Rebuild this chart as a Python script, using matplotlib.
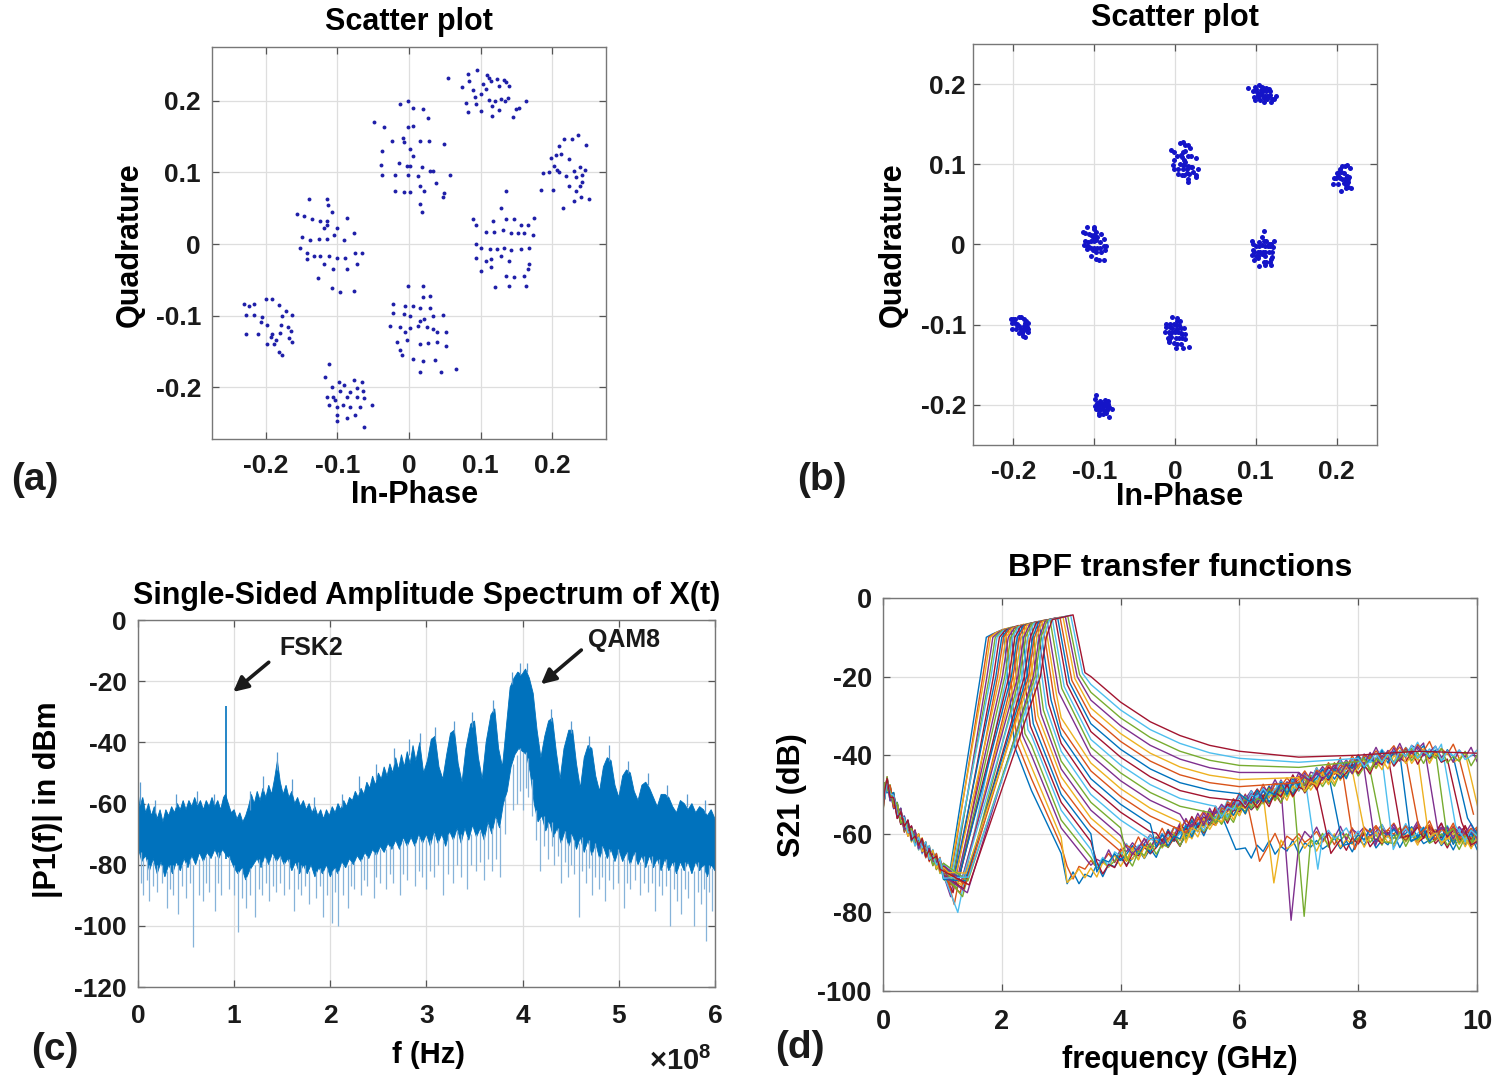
import numpy as np
import matplotlib
matplotlib.use("Agg")
import matplotlib.pyplot as plt

plt.rcParams.update({
    "font.family": ["Liberation Sans", "DejaVu Sans"],
    "font.weight": "bold",
    "axes.unicode_minus": False,
    "mathtext.fontset": "custom",
    "mathtext.rm": "Liberation Sans",
    "mathtext.it": "Liberation Sans",
})

# ---------------- (a) QAM8 constellation, noisy ----------------
QA_TOP = [(0.055, 0.232), (0.082, 0.237), (0.095, 0.243), (0.109, 0.236), (0.112, 0.232), (0.123, 0.230),
          (0.132, 0.229), (0.140, 0.220), (0.074, 0.219), (0.084, 0.227), (0.103, 0.223), (0.115, 0.227),
          (0.125, 0.220), (0.135, 0.226), (0.092, 0.205), (0.100, 0.209), (0.112, 0.201), (0.120, 0.200),
          (0.129, 0.202), (0.134, 0.199), (0.079, 0.197), (0.094, 0.195), (0.100, 0.185), (0.116, 0.192),
          (0.116, 0.179), (0.149, 0.188), (0.145, 0.177), (0.154, 0.190), (0.164, 0.199), (0.082, 0.184),
          (0.107, 0.216), (0.089, 0.215), (0.126, 0.187), (0.138, 0.204)]
QA_UPMID = [(-0.013, 0.195), (-0.002, 0.200), (0.005, 0.190), (0.019, 0.188), (0.026, 0.176), (-0.049, 0.171),
            (-0.035, 0.163), (-0.001, 0.163), (0.006, 0.165), (-0.008, 0.148), (-0.024, 0.144), (-0.007, 0.142),
            (0.016, 0.144), (0.028, 0.144), (0.049, 0.139), (-0.038, 0.130), (0.002, 0.132), (0.006, 0.123),
            (-0.014, 0.113), (-0.003, 0.109), (0.002, 0.109), (0.018, 0.107), (0.029, 0.102), (-0.039, 0.110),
            (-0.038, 0.097), (-0.019, 0.097), (-0.002, 0.097), (0.013, 0.095), (0.038, 0.085), (0.057, 0.097),
            (-0.020, 0.074), (-0.007, 0.072), (0.002, 0.073), (0.015, 0.081), (0.021, 0.074), (0.049, 0.071),
            (0.048, 0.065), (0.016, 0.056), (0.018, 0.045), (0.034, 0.102)]
QA_RIGHT = [(0.217, 0.147), (0.228, 0.146), (0.236, 0.152), (0.247, 0.138), (0.210, 0.137), (0.198, 0.120),
            (0.205, 0.124), (0.212, 0.125), (0.224, 0.119), (0.203, 0.109), (0.206, 0.104), (0.209, 0.101),
            (0.196, 0.100), (0.187, 0.099), (0.219, 0.095), (0.231, 0.102), (0.238, 0.107), (0.246, 0.104),
            (0.242, 0.097), (0.233, 0.093), (0.241, 0.086), (0.238, 0.081), (0.184, 0.076), (0.201, 0.076),
            (0.224, 0.081), (0.233, 0.074), (0.240, 0.065), (0.251, 0.063), (0.231, 0.060), (0.215, 0.050)]
QA_LEFTMID = [(-0.140, 0.063), (-0.115, 0.063), (-0.113, 0.055), (-0.156, 0.042), (-0.147, 0.039),
              (-0.135, 0.035), (-0.124, 0.032), (-0.114, 0.032), (-0.107, 0.045), (-0.086, 0.037),
              (-0.114, 0.026), (-0.119, 0.023), (-0.101, 0.023), (-0.077, 0.015), (-0.149, 0.010),
              (-0.138, 0.005), (-0.126, 0.007), (-0.114, 0.007), (-0.105, 0.012), (-0.091, 0.005),
              (-0.152, -0.006), (-0.142, -0.012), (-0.133, -0.016), (-0.124, -0.017), (-0.112, -0.017),
              (-0.101, -0.019), (-0.090, -0.019), (-0.075, -0.012), (-0.066, -0.012), (-0.073, -0.028),
              (-0.118, -0.028), (-0.106, -0.035), (-0.087, -0.035), (-0.127, -0.048), (-0.107, -0.062),
              (-0.096, -0.067), (-0.077, -0.066), (-0.142, -0.021)]
QA_RIGHTMID = [(0.136, 0.074), (0.129, 0.051), (0.090, 0.035), (0.117, 0.032), (0.136, 0.035), (0.147, 0.035),
               (0.157, 0.026), (0.175, 0.036), (0.166, 0.026), (0.173, 0.012), (0.094, 0.026), (0.108, 0.017),
               (0.119, 0.017), (0.131, 0.019), (0.143, 0.016), (0.152, 0.015), (0.161, 0.016), (0.094, 0.000),
               (0.101, -0.005), (0.113, -0.007), (0.123, -0.007), (0.133, -0.005), (0.143, -0.008),
               (0.157, -0.007), (0.167, -0.006), (0.093, -0.019), (0.108, -0.023), (0.115, -0.021),
               (0.129, -0.016), (0.140, -0.023), (0.168, -0.028), (0.166, -0.035), (0.101, -0.038),
               (0.114, -0.032), (0.136, -0.044), (0.147, -0.046), (0.161, -0.045), (0.120, -0.060),
               (0.140, -0.058), (0.163, -0.058)]
QA_FARLEFT = [(-0.231, -0.083), (-0.223, -0.086), (-0.216, -0.083), (-0.199, -0.076), (-0.191, -0.076),
              (-0.181, -0.085), (-0.228, -0.099), (-0.216, -0.099), (-0.205, -0.102), (-0.172, -0.093),
              (-0.164, -0.099), (-0.177, -0.100), (-0.207, -0.109), (-0.198, -0.113), (-0.179, -0.113),
              (-0.169, -0.116), (-0.228, -0.125), (-0.211, -0.125), (-0.191, -0.125), (-0.180, -0.124),
              (-0.165, -0.122), (-0.193, -0.130), (-0.186, -0.134), (-0.168, -0.131), (-0.163, -0.136),
              (-0.198, -0.139), (-0.188, -0.140), (-0.182, -0.150), (-0.177, -0.155)]
QA_LOWMID = [(-0.001, -0.058), (0.020, -0.059), (0.019, -0.074), (0.030, -0.073), (-0.022, -0.083),
             (-0.006, -0.086), (0.006, -0.086), (0.015, -0.089), (0.029, -0.089), (-0.007, -0.097),
             (-0.022, -0.096), (0.002, -0.100), (0.015, -0.107), (0.021, -0.104), (0.034, -0.100),
             (0.048, -0.099), (-0.026, -0.114), (-0.013, -0.116), (0.001, -0.117), (0.013, -0.114),
             (0.025, -0.116), (0.034, -0.118), (0.039, -0.123), (0.052, -0.123), (-0.017, -0.137),
             (-0.003, -0.134), (0.015, -0.139), (0.027, -0.138), (0.039, -0.137), (0.052, -0.142),
             (-0.013, -0.148), (-0.010, -0.155), (0.006, -0.160), (0.019, -0.163), (0.036, -0.162),
             (0.015, -0.178), (0.044, -0.178), (0.066, -0.174), (-0.006, -0.123)]
QA_BOTTOM = [(-0.112, -0.168), (-0.117, -0.185), (-0.098, -0.192), (-0.091, -0.196), (-0.077, -0.190),
             (-0.066, -0.192), (-0.107, -0.199), (-0.096, -0.205), (-0.082, -0.206), (-0.073, -0.201),
             (-0.064, -0.205), (-0.115, -0.213), (-0.106, -0.214), (-0.103, -0.218), (-0.087, -0.213),
             (-0.073, -0.214), (-0.063, -0.215), (-0.051, -0.224), (-0.101, -0.228), (-0.092, -0.225),
             (-0.082, -0.228), (-0.069, -0.227), (-0.101, -0.238), (-0.087, -0.243), (-0.075, -0.238),
             (-0.101, -0.247), (-0.063, -0.255), (-0.112, -0.225)]
QA_CLUSTERS = [QA_TOP, QA_UPMID, QA_RIGHT, QA_LEFTMID, QA_RIGHTMID, QA_FARLEFT, QA_LOWMID, QA_BOTTOM]

# ---------------- (b) same constellation, clean: blob centres ----------------
QB_CENTERS = [(0.109, 0.188), (0.012, 0.102), (0.208, 0.083), (-0.100, 0.002),
              (0.109, -0.008), (-0.191, -0.102), (0.001, -0.110), (-0.090, -0.202)]
QB_SHRINK = 0.32

SCATTER_TICKS = [-0.2, -0.1, 0, 0.1, 0.2]
SCATTER_LABELS = ["-0.2", "-0.1", "0", "0.1", "0.2"]

# ---------------- (c) spectrum (f in units of 1e8 Hz, dBm) ----------------
SPEC_TOP = [(0.00, -56), (0.02, -61), (0.05, -58), (0.08, -63), (0.11, -60), (0.14, -64), (0.17, -61),
            (0.20, -65), (0.23, -62), (0.26, -66), (0.29, -62), (0.32, -64), (0.35, -61), (0.38, -63),
            (0.41, -60), (0.44, -62), (0.47, -59), (0.50, -62), (0.53, -59), (0.56, -61), (0.59, -58),
            (0.62, -61), (0.65, -59), (0.68, -62), (0.71, -59), (0.74, -61), (0.77, -58), (0.80, -61),
            (0.83, -59), (0.86, -62), (0.89, -58), (0.91, -57), (0.94, -60), (0.97, -63), (1.00, -62),
            (1.03, -65), (1.06, -63), (1.09, -66), (1.12, -64), (1.15, -61), (1.18, -57), (1.21, -60),
            (1.24, -56), (1.27, -59), (1.30, -55), (1.33, -58), (1.36, -54), (1.39, -57), (1.42, -52),
            (1.45, -46), (1.48, -53), (1.51, -57), (1.54, -54), (1.57, -58), (1.60, -56), (1.63, -60),
            (1.66, -58), (1.69, -61), (1.72, -59), (1.75, -62), (1.78, -60), (1.81, -63), (1.84, -61),
            (1.87, -64), (1.90, -62), (1.93, -65), (1.96, -62), (1.99, -64), (2.02, -61), (2.05, -63),
            (2.08, -60), (2.11, -62), (2.14, -59), (2.17, -61), (2.20, -58), (2.23, -59), (2.26, -56),
            (2.29, -58), (2.32, -55), (2.35, -57), (2.38, -53), (2.41, -55), (2.44, -51), (2.47, -54),
            (2.50, -50), (2.53, -52), (2.56, -48), (2.59, -51), (2.62, -47), (2.65, -50), (2.68, -45),
            (2.71, -49), (2.74, -44), (2.77, -48), (2.80, -43), (2.83, -47), (2.86, -41), (2.89, -46),
            (2.93, -40), (2.97, -50), (3.01, -46), (3.05, -39), (3.09, -38), (3.13, -48), (3.17, -52),
            (3.21, -44), (3.25, -37), (3.29, -36), (3.33, -47), (3.37, -53), (3.41, -42), (3.46, -34),
            (3.50, -33), (3.54, -45), (3.58, -52), (3.62, -40), (3.67, -31), (3.71, -29), (3.75, -42),
            (3.79, -48), (3.83, -35), (3.87, -22), (3.91, -19), (3.95, -17), (3.99, -18), (4.03, -16),
            (4.07, -19), (4.11, -24), (4.15, -36), (4.19, -45), (4.23, -38), (4.27, -33), (4.31, -32),
            (4.35, -43), (4.39, -52), (4.43, -42), (4.48, -36), (4.52, -36), (4.56, -47), (4.60, -55),
            (4.64, -45), (4.68, -41), (4.72, -42), (4.76, -51), (4.80, -56), (4.84, -48), (4.88, -45),
            (4.92, -46), (4.96, -54), (5.00, -58), (5.04, -51), (5.08, -49), (5.12, -50), (5.16, -56),
            (5.20, -59), (5.24, -54), (5.28, -53), (5.32, -55), (5.36, -58), (5.40, -61), (5.44, -57),
            (5.48, -57), (5.52, -58), (5.56, -61), (5.60, -63), (5.64, -59), (5.68, -60), (5.72, -62),
            (5.76, -60), (5.80, -63), (5.84, -61), (5.88, -62), (5.92, -64), (5.96, -62), (6.00, -65)]
SPEC_LOW = [(0.00, -74), (0.04, -79), (0.08, -77), (0.12, -82), (0.16, -78), (0.20, -83), (0.24, -79),
            (0.28, -84), (0.32, -80), (0.36, -83), (0.40, -79), (0.44, -82), (0.48, -78), (0.52, -81),
            (0.56, -77), (0.60, -80), (0.64, -76), (0.68, -79), (0.72, -76), (0.76, -78), (0.80, -75),
            (0.84, -78), (0.88, -75), (0.92, -77), (0.96, -78), (1.00, -81), (1.04, -83), (1.08, -81),
            (1.12, -85), (1.16, -82), (1.20, -80), (1.24, -78), (1.28, -81), (1.32, -77), (1.36, -80),
            (1.40, -76), (1.44, -79), (1.48, -77), (1.52, -80), (1.56, -78), (1.60, -82), (1.64, -79),
            (1.68, -83), (1.72, -80), (1.76, -83), (1.80, -80), (1.84, -84), (1.88, -81), (1.92, -83),
            (1.96, -80), (2.00, -84), (2.04, -81), (2.08, -83), (2.12, -79), (2.16, -81), (2.20, -78),
            (2.24, -80), (2.28, -77), (2.32, -79), (2.36, -76), (2.40, -78), (2.44, -75), (2.48, -77),
            (2.52, -74), (2.56, -76), (2.60, -73), (2.64, -75), (2.68, -72), (2.72, -75), (2.76, -71),
            (2.80, -74), (2.84, -71), (2.88, -74), (2.92, -70), (2.96, -73), (3.00, -70), (3.04, -74),
            (3.08, -69), (3.12, -73), (3.16, -70), (3.20, -74), (3.24, -69), (3.28, -72), (3.32, -68),
            (3.36, -73), (3.40, -68), (3.44, -72), (3.48, -67), (3.52, -71), (3.56, -68), (3.60, -72),
            (3.64, -66), (3.68, -70), (3.72, -64), (3.76, -68), (3.80, -60), (3.84, -56), (3.88, -48),
            (3.92, -44), (3.96, -42), (4.00, -43), (4.04, -44), (4.08, -50), (4.12, -60), (4.16, -66),
            (4.20, -64), (4.24, -69), (4.28, -66), (4.32, -71), (4.36, -68), (4.40, -73), (4.44, -69),
            (4.48, -74), (4.52, -70), (4.56, -75), (4.60, -71), (4.64, -76), (4.68, -72), (4.72, -77),
            (4.76, -73), (4.80, -78), (4.84, -74), (4.88, -78), (4.92, -75), (4.96, -79), (5.00, -75),
            (5.04, -79), (5.08, -76), (5.12, -80), (5.16, -76), (5.20, -80), (5.24, -77), (5.28, -81),
            (5.32, -77), (5.36, -81), (5.40, -78), (5.44, -82), (5.48, -78), (5.52, -82), (5.56, -79),
            (5.60, -83), (5.64, -79), (5.68, -82), (5.72, -79), (5.76, -83), (5.80, -79), (5.84, -82),
            (5.88, -80), (5.92, -84), (5.96, -80), (6.00, -82)]
# light downward spikes: (f, bottom, top)
SPIKES = [(0.03, -86, -76), (0.05, -90, -78), (0.09, -85, -78), (0.12, -92, -80), (0.16, -87, -79),
          (0.20, -89, -80), (0.25, -86, -80), (0.30, -94, -82), (0.33, -88, -80), (0.36, -90, -80),
          (0.42, -96, -80), (0.46, -87, -80), (0.50, -91, -79), (0.54, -86, -78), (0.57, -107, -80),
          (0.63, -90, -78), (0.68, -92, -78), (0.71, -86, -77), (0.74, -89, -77), (0.80, -95, -77),
          (0.83, -86, -76), (0.86, -90, -76), (0.95, -88, -77), (1.00, -90, -80), (1.04, -102, -82),
          (1.08, -91, -81), (1.12, -94, -84), (1.17, -90, -81), (1.22, -97, -80), (1.26, -88, -78),
          (1.29, -90, -79), (1.33, -86, -78), (1.36, -92, -79), (1.40, -87, -77), (1.44, -89, -78),
          (1.48, -86, -77), (1.52, -90, -79), (1.57, -88, -78), (1.62, -95, -81), (1.66, -88, -79),
          (1.70, -90, -80), (1.74, -87, -80), (1.78, -93, -82), (1.85, -91, -82), (1.89, -87, -81),
          (1.92, -97, -82), (1.97, -90, -81), (2.02, -99, -82), (2.05, -89, -81), (2.08, -100, -82),
          (2.13, -90, -80), (2.18, -94, -80), (2.22, -87, -79), (2.25, -88, -79), (2.32, -90, -78),
          (2.35, -85, -77), (2.38, -87, -77), (2.45, -91, -76), (2.48, -84, -76), (2.52, -86, -75),
          (2.58, -88, -75), (2.62, -83, -74), (2.65, -86, -74), (2.72, -90, -74), (2.76, -83, -72),
          (2.80, -85, -73), (2.88, -87, -73), (2.92, -82, -71), (2.95, -84, -72), (3.00, -88, -72),
          (3.04, -82, -72), (3.08, -84, -70), (3.12, -80, -72), (3.17, -90, -72), (3.22, -83, -70),
          (3.28, -86, -71), (3.32, -80, -69), (3.36, -84, -70), (3.42, -88, -71), (3.46, -80, -70),
          (3.52, -82, -70), (3.56, -79, -69), (3.60, -85, -70), (3.64, -78, -67), (3.68, -82, -68),
          (3.72, -78, -65), (3.76, -84, -67), (3.82, -70, -58), (3.90, -62, -47), (3.94, -60, -44),
          (3.97, -56, -42), (4.00, -62, -43), (4.03, -55, -43), (4.06, -58, -45), (4.10, -64, -52),
          (4.14, -72, -62), (4.18, -82, -65), (4.22, -74, -64), (4.26, -78, -66), (4.30, -74, -66),
          (4.33, -80, -70), (4.37, -77, -68), (4.40, -86, -72), (4.44, -79, -69), (4.47, -84, -73),
          (4.50, -80, -70), (4.53, -83, -72), (4.59, -97, -73), (4.62, -82, -71), (4.66, -86, -75),
          (4.69, -81, -72), (4.72, -90, -76), (4.75, -84, -73), (4.79, -88, -77), (4.82, -84, -74),
          (4.86, -92, -77), (4.90, -85, -75), (4.94, -88, -78), (4.99, -86, -75), (5.05, -94, -78),
          (5.09, -86, -76), (5.12, -88, -79), (5.17, -85, -76), (5.22, -90, -79), (5.26, -86, -77),
          (5.30, -89, -80), (5.34, -86, -77), (5.38, -95, -80), (5.42, -87, -78), (5.45, -90, -81),
          (5.49, -87, -78), (5.53, -100, -81), (5.57, -88, -79), (5.60, -92, -82), (5.65, -96, -81),
          (5.69, -88, -79), (5.72, -91, -82), (5.78, -100, -82), (5.82, -89, -79), (5.85, -93, -81),
          (5.89, -88, -80), (5.91, -105, -83), (5.94, -89, -80), (5.97, -95, -81)]
# thin tips poking above the dense body: (f, base, tip)
UP_SPIKES = [(0.02, -60, -53), (0.18, -63, -59), (0.40, -61, -57), (0.61, -60, -56), (0.79, -60, -57),
             (1.16, -62, -56), (1.30, -56, -51), (1.45, -49, -43), (1.60, -57, -52), (1.83, -62, -58),
             (2.12, -61, -57), (2.30, -56, -51), (2.48, -52, -47), (2.66, -47, -42), (2.82, -44, -39),
             (2.93, -41, -37), (3.09, -39, -35), (3.29, -37, -33), (3.47, -35, -30), (3.69, -30, -26),
             (3.89, -21, -17), (3.97, -18, -14), (4.05, -17, -14), (4.29, -33, -29), (4.50, -37, -33),
             (4.69, -42, -38), (4.90, -46, -41), (5.10, -50, -46), (5.30, -54, -50), (5.50, -58, -54),
             (5.71, -61, -57), (5.90, -63, -59)]
FSK2_LINE = (0.92, -78, -28)

# ---------------- (d) BPF transfer functions (GHz, dB) ----------------
START_F = [0.0, 0.03, 0.07, 0.12, 0.18, 0.24, 0.30, 0.36, 0.42, 0.48, 0.54, 0.60, 0.66, 0.72, 0.78,
           0.84, 0.90, 0.96, 1.02]
START_DB = [-53, -49, -47.5, -49.5, -51.5, -54, -55.5, -57.5, -58.5, -60, -61, -62, -63, -64, -65,
            -66, -67, -68, -69.5]
RISE_LO = [1.10, 1.11, 1.12, 1.14, 1.15, 1.16, 1.18, 1.19, 1.20, 1.22, 1.23, 1.24, 1.26, 1.27,
           1.28, 1.30, 1.31, 1.32, 1.34, 1.35, 1.36, 1.38, 1.39, 1.40, 1.42, 1.43, 1.44, 1.45]
MIN_DB = [-72, -74, -71, -76, -73, -70, -75, -72, -78, -71, -73, -74, -80, -72,
          -71, -75, -73, -72, -76, -71, -74, -72, -73, -70, -75, -72, -71, -73]
RISE_10 = [1.74, 1.78, 1.81, 1.85, 1.89, 1.92, 1.96, 2.00, 2.03, 2.07, 2.11, 2.15, 2.18, 2.22,
           2.26, 2.29, 2.33, 2.37, 2.40, 2.44, 2.48, 2.52, 2.55, 2.59, 2.63, 2.66, 2.70, 2.75]
PEAK_F = [2.02, 2.06, 2.11, 2.15, 2.19, 2.24, 2.28, 2.33, 2.37, 2.41, 2.46, 2.50, 2.55, 2.59,
          2.63, 2.68, 2.72, 2.76, 2.81, 2.85, 2.90, 2.94, 2.98, 3.03, 3.07, 3.11, 3.16, 3.20]
PEAK_DB = [-8.0, -7.8, -7.6, -7.5, -7.3, -7.2, -7.0, -6.9, -6.7, -6.6, -6.5, -6.3, -6.2, -6.0,
           -5.9, -5.8, -5.6, -5.5, -5.4, -5.3, -5.1, -5.0, -4.9, -4.8, -4.7, -4.6, -4.4, -4.3]
STEEP_DB = [-38, -37, -36, -35, -34.5, -33.5, -32.5, -32, -31, -30, -29.5, -28.5, -28, -27,
            -26, -25.5, -24.5, -24, -23, -22.5, -22, -21.5, -21, -20.5, -20, -19.5, -19.2, -19]
nan = np.nan
TAIL_T = [2.5, 3.0, 3.5, 4.0, 4.5, 5.0, 5.5, 6.0, 7.0, 8.0, 9.0, 10.0]
TAIL_DB = [
    [-49, -46, -43, -40, -37.5, -35] + [nan] * 22,
    [-65, -63, -61, -58.5, -56.5, -54, -52, -50, -48, -45.5, -43.5, -41.5, -39, -37, -35, -33, -30.5] + [nan] * 11,
    [-74, -72, -70, -68, -66, -64, -62, -60, -58, -56, -54, -52, -50, -48, -46, -44, -42, -40, -38, -36,
     -34, -32, -30, -28, -26, -24, -22, -20],
    [nan] * 7 + [-66.5, -64.5, -62.5, -60.5, -58.5, -56.5, -54.5, -52.5, -50.5, -48.5, -46.5, -44.5,
                 -42.5, -40.5, -38.5, -36.5, -34.5, -32.5, -30.5, -28.5, -26.5],
    [nan] * 11 + [-63.5, -61.5, -59.5, -57.5, -55.5, -53.5, -51.5, -49.5, -47.5, -45.5, -43.5, -41.5,
                  -39.5, -37.5, -35.5, -33.5, -31.5],
    [nan] * 14 + [-61, -59, -57, -55, -53, -51, -49, -47, -45, -43, -41, -39, -37, -35],
    [nan] * 17 + [-56.5, -54.6, -52.7, -50.8, -48.9, -47, -45.1, -43.2, -41.3, -39.4, -37.5],
    [nan] * 19 + [-53.4, -51.6, -49.8, -48, -46.2, -44.4, -42.6, -40.8, -39],
    [nan] * 22 + [-47, -45.7, -44.4, -43.1, -41.8, -40.5],
    [nan] * 25 + [-41.6, -40.8, -40],
    [nan] * 26 + [-39.5, -39],
    [nan] * 27 + [-39.5],
]
DIAG_F0 = 2.5
DIAG_DB = [-72.5, -72.3, -72.0, -71.7, -71.4, -71.0, -70.6, -70.2, -69.7, -69.2, -68.6, -68.1, -67.6,
           -67.1, -66.6, -66.0, -65.4, -64.8, -64.2, -63.6, -63.0, -62.4, -61.8, -61.2, -60.6, -60.0,
           -59.3, -58.6, -57.9, -57.2, -56.5, -55.8, -55.1, -54.4, -53.7, -53.0, -52.4, -51.8, -51.2,
           -50.6, -50.0, -49.5, -49.0, -48.5, -48.0, -47.5, -47.0, -46.5, -46.0, -45.5, -45.0, -44.5,
           -44.0, -43.5, -43.0, -42.5, -42.1, -41.7, -41.3, -40.9, -40.5, -40.3, -40.1, -39.9, -39.7,
           -39.5, -39.5, -39.6, -39.7, -39.8, -40.0, -40.1, -40.2, -40.3, -40.4, -40.5]
HARM_F = [5.8, 6.2, 6.44, 6.73, 6.95, 7.18, 7.4, 7.6, 7.8, 8.0, 8.15, 8.3, 8.45, 8.6,
          8.75, 8.9, 9.05, 9.2, 9.35, 9.5, 9.6, 9.7, 9.8, 9.9, 11, 11, 11, 11]
DIP_DB = [-64, -67, -72.5, -82, -81, -69, -65, -63, -64, -62, -63, -62, -64, -61,
          -62, -60, -61, -59, -60, -58, -57, -56, -55, -55, -55, -55, -55, -55]
FLOOR_F0 = 5.8
FLOOR_DB = [-63, -63, -63, -62.8, -62.6, -62.5, -62.4, -62.3, -62.2, -62.1, -62, -61.9, -61.8, -61.7,
            -61.6, -61.5, -61.4, -61.3, -61.2, -61.1, -61.0, -61.0, -60.9, -60.8, -60.7, -60.6, -60.5,
            -60.4, -60.3, -60.2, -60.1, -60.0, -60.0, -60.0, -60.1, -60.2, -60.3, -60.4, -60.5, -60.6,
            -60.7, -60.8, -61.0]
NOISE = [0.0, 1.6, -1.2, 0.7, -2.1, 1.1, -0.6, 2.0, -1.5, 0.4, -0.9, 1.8, -1.8, 0.9, -0.3, 1.3, -1.0]
OFFS = [-1.5, 0.5, -0.8, 1.2, -0.3, 0.9, -1.1, 0.2, 1.4, -0.6, 0.7, -1.3, 0.1, 1.0,
        -0.4, 0.6, -0.9, 1.3, -0.2, 0.8, -1.0, 0.3, 1.1, -0.7, 0.4, -0.5, 0.2, 0.0]
MATLAB_COLORS = ["#0072BD", "#D95319", "#EDB120", "#7E2F8E", "#77AC30", "#4DBEEE", "#A2142F"]


def style_axes(ax, labelsize, xpad, ypad):
    ax.grid(True, color="#dedede", lw=0.9)
    ax.set_axisbelow(True)
    for s in ax.spines.values():
        s.set_color("#777777")
        s.set_linewidth(1.0)
    ax.tick_params(direction="in", top=True, right=True, length=5, width=0.9, color="#555555",
                   labelsize=labelsize, labelcolor="#1a1a1a")
    ax.tick_params(axis="x", pad=xpad)
    ax.tick_params(axis="y", pad=ypad)


fig = plt.figure(figsize=(14.93, 10.78), dpi=100)

# ---- (a)
ax_a = fig.add_axes([0.142, 0.5928, 0.2639, 0.3636])
for cl in QA_CLUSTERS:
    xs, ys = zip(*cl)
    ax_a.plot(xs, ys, "o", ms=2.8, color="#1f1fa8", mec="none")
ax_a.set_xlim(-0.275, 0.275)
ax_a.set_ylim(-0.272, 0.275)
ax_a.set_xticks(SCATTER_TICKS, labels=SCATTER_LABELS)
ax_a.set_yticks(SCATTER_TICKS, labels=SCATTER_LABELS)
style_axes(ax_a, 19, 11, 8)
ax_a.set_title("Scatter plot", fontsize=22, fontweight="bold", y=1.064, va="center", pad=0)
ax_a.set_xlabel("In-Phase", fontsize=22, fontweight="bold", va="center")
ax_a.xaxis.set_label_coords(0.513, -0.143)
ax_a.set_ylabel("Quadrature", fontsize=22, fontweight="bold", va="center")
ax_a.yaxis.set_label_coords(-0.208, 0.495)

# ---- (b)
ax_b = fig.add_axes([0.6517, 0.5872, 0.2706, 0.3720])
for cl, (cx, cy) in zip(QA_CLUSTERS, QB_CENTERS):
    pts = np.array(cl)
    mx, my = pts.mean(axis=0)
    ax_b.plot(cx + QB_SHRINK * (pts[:, 0] - mx), cy + QB_SHRINK * (pts[:, 1] - my), "o",
              ms=3.6, color="#1414c8", mec="none")
ax_b.set_xlim(-0.25, 0.25)
ax_b.set_ylim(-0.25, 0.25)
ax_b.set_xticks(SCATTER_TICKS, labels=SCATTER_LABELS)
ax_b.set_yticks(SCATTER_TICKS, labels=SCATTER_LABELS)
style_axes(ax_b, 19, 11, 5)
ax_b.set_title("Scatter plot", fontsize=22, fontweight="bold", y=1.065, va="center", pad=0)
ax_b.set_xlabel("In-Phase", fontsize=22, fontweight="bold", va="center")
ax_b.xaxis.set_label_coords(0.512, -0.130)
ax_b.set_ylabel("Quadrature", fontsize=22, fontweight="bold", va="center")
ax_b.yaxis.set_label_coords(-0.198, 0.499)

# ---- (c)
ax_c = fig.add_axes([0.0924, 0.0844, 0.3865, 0.3404])
top = np.array(SPEC_TOP)
low = np.array(SPEC_LOW)
sp = np.array(SPIKES)
up = np.array(UP_SPIKES)
ax_c.vlines(sp[:, 0], sp[:, 1], sp[:, 2], color="#86b3d9", lw=0.9)
ax_c.vlines(up[:, 0], up[:, 1], up[:, 2], color="#5b9bd0", lw=0.9)
ax_c.fill(np.concatenate([top[:, 0], low[::-1, 0]]), np.concatenate([top[:, 1], low[::-1, 1]]),
          color="#0072BD", lw=0.6, ec="#0072BD")
ax_c.vlines([FSK2_LINE[0]], [FSK2_LINE[1]], [FSK2_LINE[2]], color="#0072BD", lw=1.2)
ax_c.set_xlim(0, 6)
ax_c.set_ylim(-120, 0)
ax_c.set_xticks(range(0, 7))
ax_c.set_yticks(range(-120, 1, 20))
style_axes(ax_c, 19, 12, 8)
ax_c.set_title("Single-Sided Amplitude Spectrum of X(t)", fontsize=22, fontweight="bold",
               y=1.065, va="center", pad=0)
ax_c.set_xlabel("f (Hz)", fontsize=21, fontweight="bold", va="center")
ax_c.xaxis.set_label_coords(0.503, -0.185)
ax_c.set_ylabel("|P1(f)| in dBm", fontsize=22, fontweight="bold", va="center")
ax_c.yaxis.set_label_coords(-0.156, 0.51)
ax_c.text(0.94, -0.204, r"$\times10^{8}$", transform=ax_c.transAxes, fontsize=21,
          ha="center", va="center", color="#1a1a1a")
arrow = dict(arrowstyle="-|>", color="#1a1a1a", lw=2.6, mutation_scale=22, shrinkA=0, shrinkB=0)
ax_c.annotate("", xy=(0.99, -23.5), xytext=(1.36, -13.8), arrowprops=arrow)
ax_c.annotate("", xy=(4.19, -21.0), xytext=(4.61, -9.8), arrowprops=arrow)
ax_c.text(1.80, -9.2, "FSK2", fontsize=18, fontweight="bold", ha="center", va="center", color="#1a1a1a")
ax_c.text(5.05, -6.5, "QAM8", fontsize=18, fontweight="bold", ha="center", va="center", color="#1a1a1a")

# ---- (d)
ax_d = fig.add_axes([0.5914, 0.0807, 0.3979, 0.3646])


def diag_at(f):
    return DIAG_DB[int(round((f - DIAG_F0) / 0.1))]


for k in range(len(PEAK_F)):
    fs, ds = [], []
    for j, (f, d) in enumerate(zip(START_F, START_DB)):
        fs.append(f)
        ds.append(d + NOISE[(j + 5 * k) % 17])
    fs += [RISE_LO[k], RISE_10[k] - 0.1, RISE_10[k], RISE_10[k] + 0.1, PEAK_F[k], PEAK_F[k] + 0.2]
    ds += [MIN_DB[k], -20, -10, PEAK_DB[k] - 1.2, PEAK_DB[k], STEEP_DB[k]]
    last = PEAK_F[k] + 0.2
    for t, row in zip(TAIL_T, TAIL_DB):
        v = row[k]
        if np.isnan(v) or t <= last + 0.05:
            continue
        if v <= diag_at(t):
            break
        fs.append(t)
        ds.append(v)
        last = t
    for j, d in enumerate(DIAG_DB):
        f = DIAG_F0 + 0.1 * j
        if last + 0.08 < f < HARM_F[k]:
            fs.append(f)
            ds.append(d + NOISE[(j + 5 * k) % 17] + OFFS[k])
    if HARM_F[k] < 10.5:
        fs.append(HARM_F[k] + 0.14)
        ds.append(DIP_DB[k])
        for j, d in enumerate(FLOOR_DB):
            f = FLOOR_F0 + 0.1 * j
            if f > HARM_F[k] + 0.22:
                fs.append(f)
                ds.append(d + NOISE[(j + 3 * k) % 17] + OFFS[k])
    ax_d.plot(fs, ds, color=MATLAB_COLORS[k % 7], lw=1.0)

ax_d.set_xlim(0, 10)
ax_d.set_ylim(-100, 0)
ax_d.set_xticks(range(0, 11, 2))
ax_d.set_yticks(range(-100, 1, 20))
style_axes(ax_d, 19.5, 13, 8)
ax_d.set_title("BPF transfer functions", fontsize=23, fontweight="bold", y=1.076, va="center", pad=0)
ax_d.set_xlabel("frequency (GHz)", fontsize=22, fontweight="bold", va="center")
ax_d.xaxis.set_label_coords(0.5, -0.176)
ax_d.set_ylabel("S21 (dB)", fontsize=22, fontweight="bold", va="center")
ax_d.yaxis.set_label_coords(-0.153, 0.499)

# panel letters
for lab, x, y in [("(a)", 35, 480), ("(b)", 822, 480), ("(c)", 55, 1050), ("(d)", 800, 1048)]:
    fig.text(x / 1493, 1 - y / 1078, lab, fontsize=28, fontweight="bold", ha="center", va="center",
             color="#1a1a1a")

fig.savefig("out.png", dpi=100)
